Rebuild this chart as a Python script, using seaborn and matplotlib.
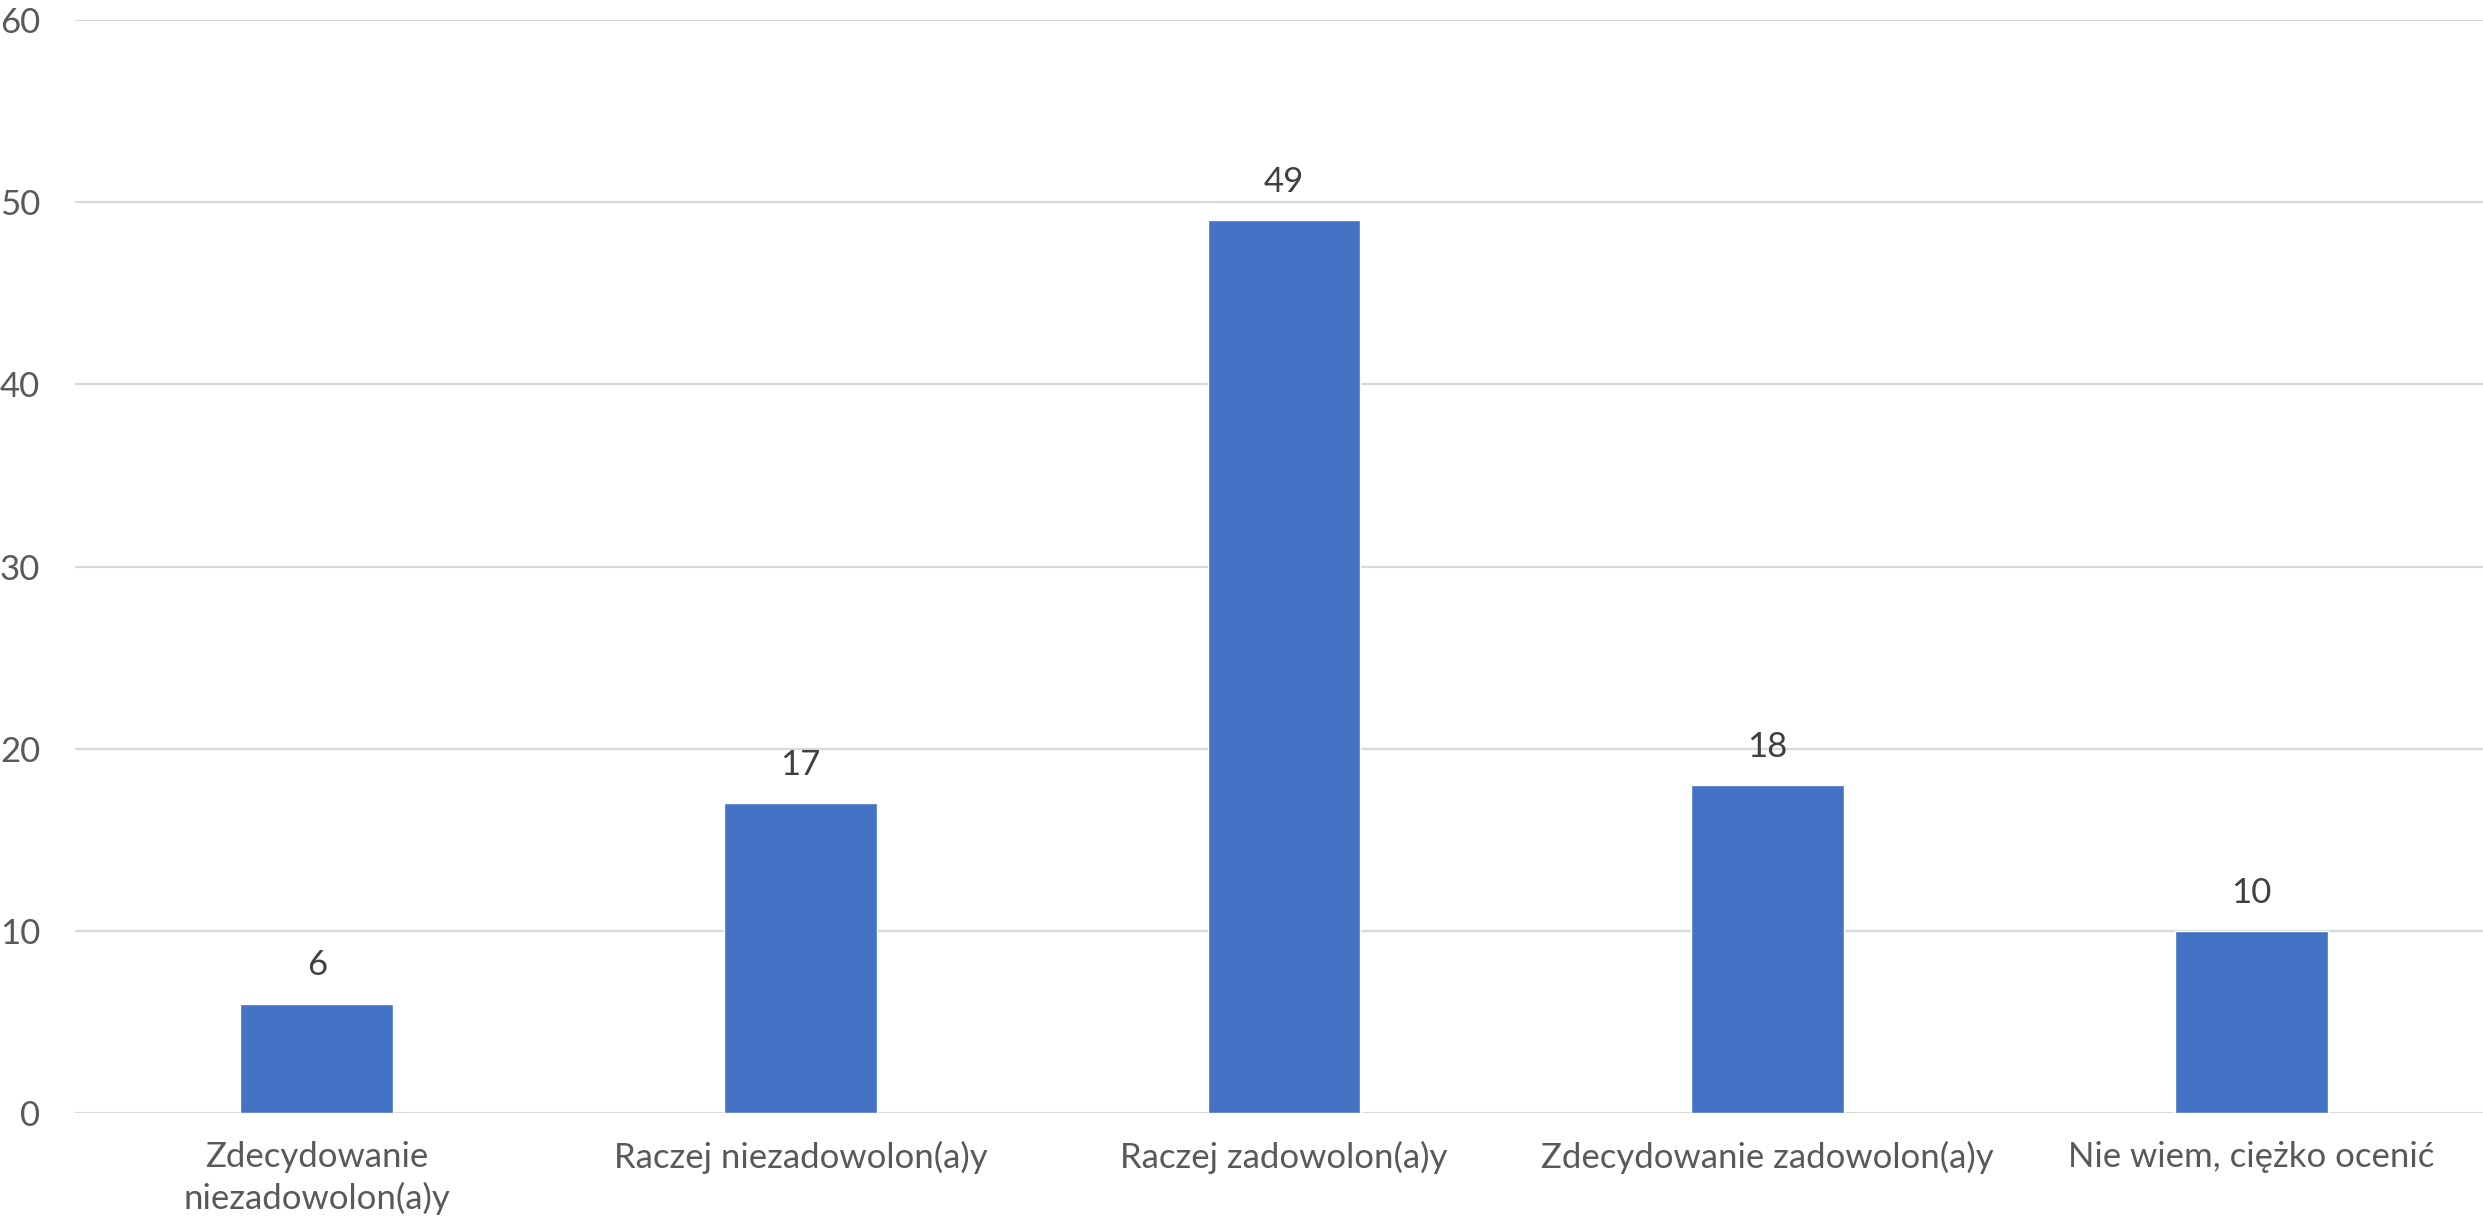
import matplotlib
matplotlib.use("Agg")
import matplotlib.pyplot as plt
import seaborn as sns
import pandas as pd

categories = ["Zdecydowanie\nniezadowolon(a)y", "Raczej niezadowolon(a)y",
              "Raczej zadowolon(a)y", "Zdecydowanie zadowolon(a)y",
              "Nie wiem, ciężko ocenić"]
values = [6, 17, 49, 18, 10]
y_ticks = [0, 10, 20, 30, 40, 50, 60]

sns.set_theme(style="white")
plt.rcParams['font.family'] = ['Lato', 'DejaVu Sans']

df = pd.DataFrame({"cat": categories, "val": values})

fig = plt.figure(figsize=(24.83, 12.24), dpi=100)
ax = fig.add_axes([75 / 2483, 1 - 1113 / 1224, 2418 / 2483, (1113 - 20) / 1224])

sns.barplot(data=df, x="cat", y="val", color="#4472C4", width=0.316,
            saturation=1, ax=ax, zorder=3)

ax.set_ylim(0, 60)
ax.set_yticks(y_ticks)
ax.yaxis.grid(True, color="#D9D9D9", linewidth=1.6, zorder=0)
ax.set_axisbelow(True)
for s in ax.spines.values():
    s.set_visible(False)
ax.set_xlabel("")
ax.set_ylabel("")
ax.tick_params(axis="y", length=0, pad=25, labelsize=25, labelcolor="#595959")
ax.tick_params(axis="x", length=0, pad=20, labelsize=25, labelcolor="#595959")
for lbl in ax.get_xticklabels():
    lbl.set_linespacing(1.35)

for c in ax.containers:
    ax.bar_label(c, labels=[str(v) for v in values], padding=16,
                 fontsize=25, color="#404040")

fig.savefig("out.png", dpi=100, facecolor="white")
